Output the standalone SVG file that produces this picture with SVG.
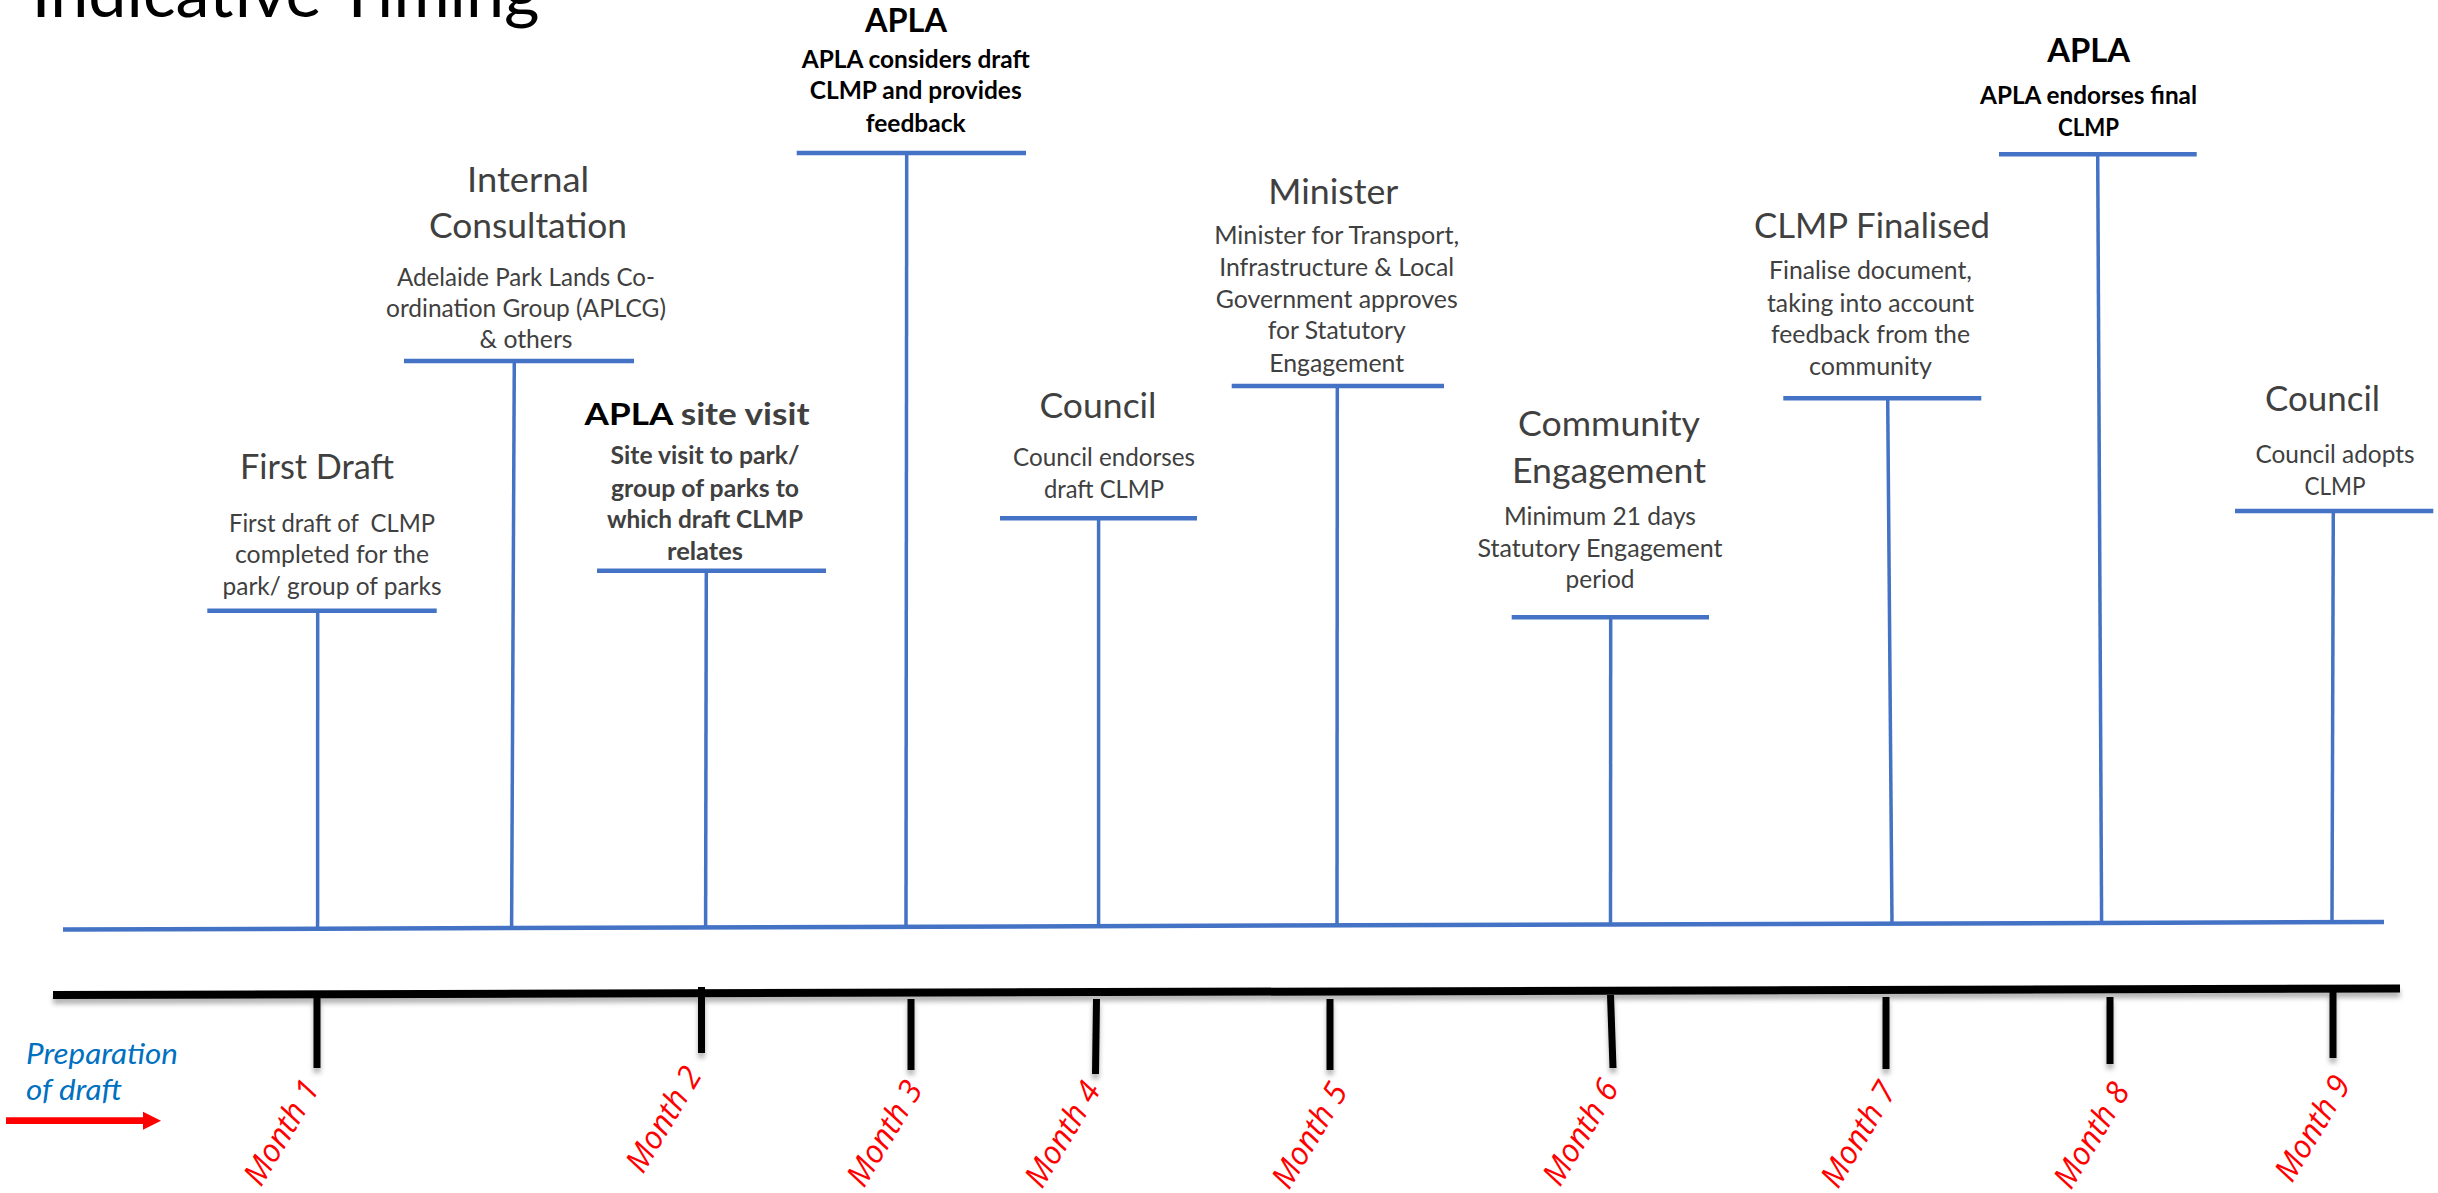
<svg xmlns="http://www.w3.org/2000/svg" width="2438" height="1193" viewBox="0 0 2438 1193">
<defs>
<style>
text{font-family:Lato,"Liberation Sans",sans-serif;}
.t{font-size:35px;fill:#404040;text-anchor:middle;}
.d{font-size:24.5px;fill:#404040;text-anchor:middle;}
.tb{font-size:33px;fill:#000;font-weight:bold;text-anchor:middle;}
.db{font-size:24.5px;fill:#000;font-weight:bold;text-anchor:middle;}
.dg{font-size:24.5px;fill:#404040;font-weight:bold;text-anchor:middle;}
.bar{stroke:#4472C4;stroke-width:4.5;fill:none;}
.conn{stroke:#4472C4;stroke-width:3.5;fill:none;}
.tick{stroke:#000;stroke-width:7;fill:none;}
.mon{font-family:"Open Sans","Liberation Sans",sans-serif;font-style:italic;font-size:32px;fill:#FF0000;text-anchor:middle;}
.prep{font-style:italic;font-size:28px;fill:#0070C0;}
</style>
<filter id="sh" filterUnits="userSpaceOnUse" x="0" y="940" width="2438" height="180">
<feDropShadow dx="0" dy="5" stdDeviation="2.5" flood-color="#000" flood-opacity="0.3"/>
</filter>
</defs>
<rect width="2438" height="1193" fill="#fff"/>

<text x="31.6" y="17" font-size="66" fill="#000" textLength="508" lengthAdjust="spacingAndGlyphs">Indicative Timing</text>

<g id="connectors">
<line class="conn" x1="63" y1="929.5" x2="2384" y2="922" style="stroke-width:4.5"/>
<line class="conn" x1="317.7" y1="610.7" x2="317.6" y2="928.7"/>
<line class="conn" x1="514.3" y1="361" x2="511.6" y2="928"/>
<line class="conn" x1="706.3" y1="570.7" x2="705.6" y2="927.4"/>
<line class="conn" x1="906.7" y1="153" x2="906" y2="926.8"/>
<line class="conn" x1="1098.6" y1="518.3" x2="1098.6" y2="926.2"/>
<line class="conn" x1="1337.3" y1="386" x2="1337" y2="925.4"/>
<line class="conn" x1="1610.7" y1="617.3" x2="1610.5" y2="924.5"/>
<line class="conn" x1="1887.7" y1="398.3" x2="1892" y2="923.6"/>
<line class="conn" x1="2097.7" y1="154.3" x2="2101.6" y2="921"/>
<line class="conn" x1="2333.3" y1="511" x2="2332" y2="922.2"/>
</g>

<g id="first-draft">
<line class="bar" x1="207.3" y1="610.7" x2="436.7" y2="610.7"/>
<text class="t" x="317" y="479.3" textLength="154" lengthAdjust="spacingAndGlyphs">First Draft</text>
<text class="d" x="332" y="531.7" textLength="206" lengthAdjust="spacingAndGlyphs" xml:space="preserve">First draft of  CLMP</text>
<text class="d" x="332" y="563.3" textLength="194" lengthAdjust="spacingAndGlyphs">completed for the</text>
<text class="d" x="332" y="595" textLength="219" lengthAdjust="spacingAndGlyphs">park/ group of parks</text>
</g>

<g id="internal-consultation">
<line class="bar" x1="404" y1="361" x2="634" y2="361"/>
<text class="t" x="528" y="191.7" textLength="122" lengthAdjust="spacingAndGlyphs">Internal</text>
<text class="t" x="528" y="238.3" textLength="198" lengthAdjust="spacingAndGlyphs">Consultation</text>
<text class="d" x="526" y="285.7" textLength="258" lengthAdjust="spacingAndGlyphs">Adelaide Park Lands Co-</text>
<text class="d" x="526" y="316.7" textLength="280" lengthAdjust="spacingAndGlyphs">ordination Group (APLCG)</text>
<text class="d" x="526" y="348.3" textLength="93" lengthAdjust="spacingAndGlyphs">&amp; others</text>
</g>

<g id="apla-site-visit">
<line class="bar" x1="597" y1="570.7" x2="826" y2="570.7"/>
<text class="tb" x="697" y="425" style="font-size:31px" textLength="225" lengthAdjust="spacingAndGlyphs">APLA<tspan fill="#404040"> site visit</tspan></text>
<text class="dg" x="705" y="464" textLength="189" lengthAdjust="spacingAndGlyphs">Site visit to park/</text>
<text class="dg" x="705" y="497" textLength="188" lengthAdjust="spacingAndGlyphs">group of parks to</text>
<text class="dg" x="705" y="528.3" textLength="196" lengthAdjust="spacingAndGlyphs">which draft CLMP</text>
<text class="dg" x="705" y="560" textLength="76" lengthAdjust="spacingAndGlyphs">relates</text>
</g>

<g id="apla-considers">
<line class="bar" x1="796.7" y1="153" x2="1026" y2="153"/>
<text class="tb" x="906" y="31.7" textLength="82" lengthAdjust="spacingAndGlyphs">APLA</text>
<text class="db" x="915.7" y="67.7" textLength="228" lengthAdjust="spacingAndGlyphs">APLA considers draft</text>
<text class="db" x="915.7" y="99.3" textLength="212" lengthAdjust="spacingAndGlyphs">CLMP and provides</text>
<text class="db" x="915.7" y="131.7" textLength="100" lengthAdjust="spacingAndGlyphs">feedback</text>
</g>

<g id="council-endorses">
<line class="bar" x1="1000" y1="518.3" x2="1197" y2="518.3"/>
<text class="t" x="1098" y="418.3" textLength="117" lengthAdjust="spacingAndGlyphs">Council</text>
<text class="d" x="1104" y="465.7" textLength="182" lengthAdjust="spacingAndGlyphs">Council endorses</text>
<text class="d" x="1104" y="497.7" textLength="120" lengthAdjust="spacingAndGlyphs">draft CLMP</text>
</g>

<g id="minister">
<line class="bar" x1="1231.7" y1="386" x2="1444" y2="386"/>
<text class="t" x="1333.3" y="204" textLength="130" lengthAdjust="spacingAndGlyphs">Minister</text>
<text class="d" x="1336.7" y="244" textLength="245" lengthAdjust="spacingAndGlyphs">Minister for Transport,</text>
<text class="d" x="1336.7" y="276" textLength="235" lengthAdjust="spacingAndGlyphs">Infrastructure &amp; Local</text>
<text class="d" x="1336.7" y="307.7" textLength="242" lengthAdjust="spacingAndGlyphs">Government approves</text>
<text class="d" x="1336.7" y="339.3" textLength="138" lengthAdjust="spacingAndGlyphs">for Statutory</text>
<text class="d" x="1336.7" y="371.7" textLength="135" lengthAdjust="spacingAndGlyphs">Engagement</text>
</g>

<g id="community-engagement">
<line class="bar" x1="1511.7" y1="617.3" x2="1709" y2="617.3"/>
<text class="t" x="1609" y="436" textLength="182" lengthAdjust="spacingAndGlyphs">Community</text>
<text class="t" x="1609" y="483.3" textLength="194" lengthAdjust="spacingAndGlyphs">Engagement</text>
<text class="d" x="1600" y="525" textLength="192" lengthAdjust="spacingAndGlyphs">Minimum 21 days</text>
<text class="d" x="1600" y="556.7" textLength="245" lengthAdjust="spacingAndGlyphs">Statutory Engagement</text>
<text class="d" x="1600" y="588.3" textLength="69" lengthAdjust="spacingAndGlyphs">period</text>
</g>

<g id="clmp-finalised">
<line class="bar" x1="1783.3" y1="398.3" x2="1981.3" y2="398.3"/>
<text class="t" x="1872" y="237.7" textLength="236" lengthAdjust="spacingAndGlyphs">CLMP Finalised</text>
<text class="d" x="1870.5" y="279.3" textLength="203" lengthAdjust="spacingAndGlyphs">Finalise document,</text>
<text class="d" x="1870.5" y="311.7" textLength="207" lengthAdjust="spacingAndGlyphs">taking into account</text>
<text class="d" x="1870.5" y="343.3" textLength="199" lengthAdjust="spacingAndGlyphs">feedback from the</text>
<text class="d" x="1870.5" y="375" textLength="123" lengthAdjust="spacingAndGlyphs">community</text>
</g>

<g id="apla-endorses">
<line class="bar" x1="1999" y1="154.3" x2="2196.7" y2="154.3"/>
<text class="tb" x="2088.7" y="61.7" textLength="83" lengthAdjust="spacingAndGlyphs">APLA</text>
<text class="db" x="2088.5" y="104" textLength="217" lengthAdjust="spacingAndGlyphs">APLA endorses final</text>
<text class="db" x="2088.5" y="136" textLength="61" lengthAdjust="spacingAndGlyphs">CLMP</text>
</g>

<g id="council-adopts">
<line class="bar" x1="2235" y1="511" x2="2433.3" y2="511"/>
<text class="t" x="2322.5" y="411" textLength="115" lengthAdjust="spacingAndGlyphs">Council</text>
<text class="d" x="2335" y="462.7" textLength="159" lengthAdjust="spacingAndGlyphs">Council adopts</text>
<text class="d" x="2335" y="495" textLength="61" lengthAdjust="spacingAndGlyphs">CLMP</text>
</g>

<g id="month-axis">
<g filter="url(#sh)">
<line x1="53" y1="995" x2="2400" y2="988.5" stroke="#000" stroke-width="8"/>
<line class="tick" x1="317" y1="998" x2="317" y2="1068"/>
<line class="tick" x1="701.5" y1="987" x2="701.5" y2="1053"/>
<line class="tick" x1="911" y1="999" x2="911" y2="1070"/>
<line class="tick" x1="1096.5" y1="999" x2="1095.5" y2="1074"/>
<line class="tick" x1="1330" y1="999" x2="1330" y2="1070"/>
<line class="tick" x1="1610.5" y1="995" x2="1613" y2="1068"/>
<line class="tick" x1="1886" y1="997" x2="1886" y2="1069"/>
<line class="tick" x1="2110" y1="997" x2="2110" y2="1064"/>
<line class="tick" x1="2333" y1="992" x2="2333" y2="1058"/>
</g>
<text class="mon" transform="translate(281,1132) rotate(-59)" dy="0.36em" textLength="116" lengthAdjust="spacingAndGlyphs">Month 1</text>
<text class="mon" transform="translate(663,1119) rotate(-59)" dy="0.36em" textLength="116" lengthAdjust="spacingAndGlyphs">Month 2</text>
<text class="mon" transform="translate(884,1133) rotate(-59)" dy="0.36em" textLength="116" lengthAdjust="spacingAndGlyphs">Month 3</text>
<text class="mon" transform="translate(1062,1134) rotate(-59)" dy="0.36em" textLength="116" lengthAdjust="spacingAndGlyphs">Month 4</text>
<text class="mon" transform="translate(1309,1135) rotate(-59)" dy="0.36em" textLength="116" lengthAdjust="spacingAndGlyphs">Month 5</text>
<text class="mon" transform="translate(1580,1132) rotate(-59)" dy="0.36em" textLength="116" lengthAdjust="spacingAndGlyphs">Month 6</text>
<text class="mon" transform="translate(1858,1134) rotate(-59)" dy="0.36em" textLength="116" lengthAdjust="spacingAndGlyphs">Month 7</text>
<text class="mon" transform="translate(2091,1135) rotate(-59)" dy="0.36em" textLength="116" lengthAdjust="spacingAndGlyphs">Month 8</text>
<text class="mon" transform="translate(2312,1128) rotate(-59)" dy="0.36em" textLength="116" lengthAdjust="spacingAndGlyphs">Month 9</text>
</g>

<g id="preparation">
<text class="prep" x="26" y="1064" textLength="152" lengthAdjust="spacingAndGlyphs">Preparation</text>
<text class="prep" x="26" y="1100" textLength="96" lengthAdjust="spacingAndGlyphs">of draft</text>
<line x1="6" y1="1120.7" x2="145" y2="1120.7" stroke="#FF0000" stroke-width="6.7"/>
<polygon points="143,1111.7 161,1120.7 143,1129.7" fill="#FF0000"/>
</g>
</svg>
